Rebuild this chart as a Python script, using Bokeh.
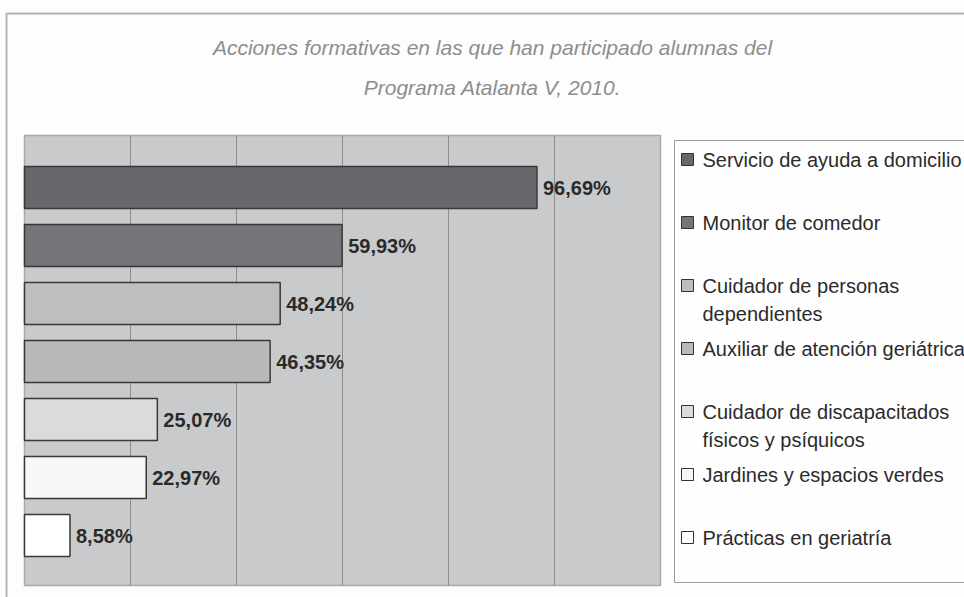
from bokeh.plotting import figure
from bokeh.models import Range1d, ColumnDataSource
from bokeh.embed import file_html
from bokeh.resources import INLINE
from bokeh.core.properties import value

# ---------------- data ----------------
title_lines = [
    "Acciones formativas en las que han participado alumnas del",
    "Programa Atalanta V, 2010.",
]
categories = [
    "Servicio de ayuda a domicilio",
    "Monitor de comedor",
    "Cuidador de personas\ndependientes",
    "Auxiliar de atención geriátrica",
    "Cuidador de discapacitados\nfísicos y psíquicos",
    "Jardines y espacios verdes",
    "Prácticas en geriatría",
]
percentages = [96.69, 59.93, 48.24, 46.35, 25.07, 22.97, 8.58]
grid_ticks = [20, 40, 60, 80, 100]
x_max = 120
bar_colors = ["#67686b", "#747578", "#bdbec0", "#b8b9bb", "#dadbdd", "#f7f7f7", "#ffffff"]

# ---------------- layout (pixels of the page) ----------------
W, H = 964, 597
PLOT_L, PLOT_R, PLOT_T, PLOT_B = 24, 660, 135, 585
ROW0, ROW_STEP = 187, 58          # centre of first bar row, row pitch
LEG_L, LEG_T, LEG_B = 674, 140, 582
LEG_ROW0, LEG_STEP, LEG_LINE = 159, 63, 28


def X(px):
    return (px - PLOT_L) / (PLOT_R - PLOT_L) * x_max


def Y(py):
    return (py - ROW0) / ROW_STEP


p = figure(
    width=W, height=H,
    x_range=Range1d(X(0), X(W)),
    y_range=Range1d(Y(H), Y(0)),
    output_backend="svg", toolbar_location=None, tools="",
    x_axis_location=None, y_axis_location=None,
    min_border=0,
)
p.min_border_left = p.min_border_right = p.min_border_top = p.min_border_bottom = 0
p.outline_line_color = None
p.background_fill_color = "#fdfdfd"
p.border_fill_color = "#fdfdfd"
p.grid.visible = False

# outer frame of the figure
p.line(x=[X(6), X(6), X(W + 5)], y=[Y(H + 5), Y(13), Y(13)],
       line_color="#b4b4b4", line_width=2)

# plot area
p.quad(left=0, right=x_max, top=Y(PLOT_T), bottom=Y(PLOT_B),
       fill_color="#c9cacc", line_color="#a9a9a9", line_width=1.5)
p.segment(x0=grid_ticks, x1=grid_ticks, y0=Y(PLOT_T), y1=Y(PLOT_B),
          line_color="#8c8c8c", line_width=1)

# bars
idx = list(range(len(categories)))
src = ColumnDataSource(dict(
    y=idx, v=percentages, color=bar_colors,
    lab=[f"{v:.2f}%".replace(".", ",") for v in percentages],
))
p.hbar(y="y", left=0, right="v", height=42 / ROW_STEP, source=src,
       fill_color="color", line_color="#383838", line_width=1.5)
p.text(x="v", y="y", text="lab", source=src, x_offset=6,
       text_font=value("Liberation Sans"), text_font_style="bold",
       text_font_size="20px", text_color="#2a2a2a",
       text_align="left", text_baseline="middle")

# title
p.text(x=[X(492), X(492)], y=[Y(47), Y(87)], text=title_lines,
       text_font=value("Liberation Sans"), text_font_style="italic",
       text_font_size="21px", text_color="#8e8e8e",
       text_align="center", text_baseline="middle")

# legend
p.quad(left=X(LEG_L), right=X(W + 20), top=Y(LEG_T), bottom=Y(LEG_B),
       fill_color="#fefefe", line_color="#9c9c9c", line_width=1)
leg_y = [Y(LEG_ROW0 + LEG_STEP * i) for i in idx]
p.scatter(x=[X(687)] * len(idx), y=leg_y, marker="square", size=12,
          fill_color=bar_colors, line_color="#333333", line_width=1)
lx, ly, lt = [], [], []
for i, name in enumerate(categories):
    for j, line in enumerate(name.split("\n")):
        lx.append(X(702))
        ly.append(Y(LEG_ROW0 + LEG_STEP * i + LEG_LINE * j))
        lt.append(line)
p.text(x=lx, y=ly, text=lt,
       text_font=value("Liberation Sans"), text_font_size="20px",
       text_color="#2b2b2b", text_align="left", text_baseline="middle")

open("out.html", "w").write(file_html(p, INLINE))
